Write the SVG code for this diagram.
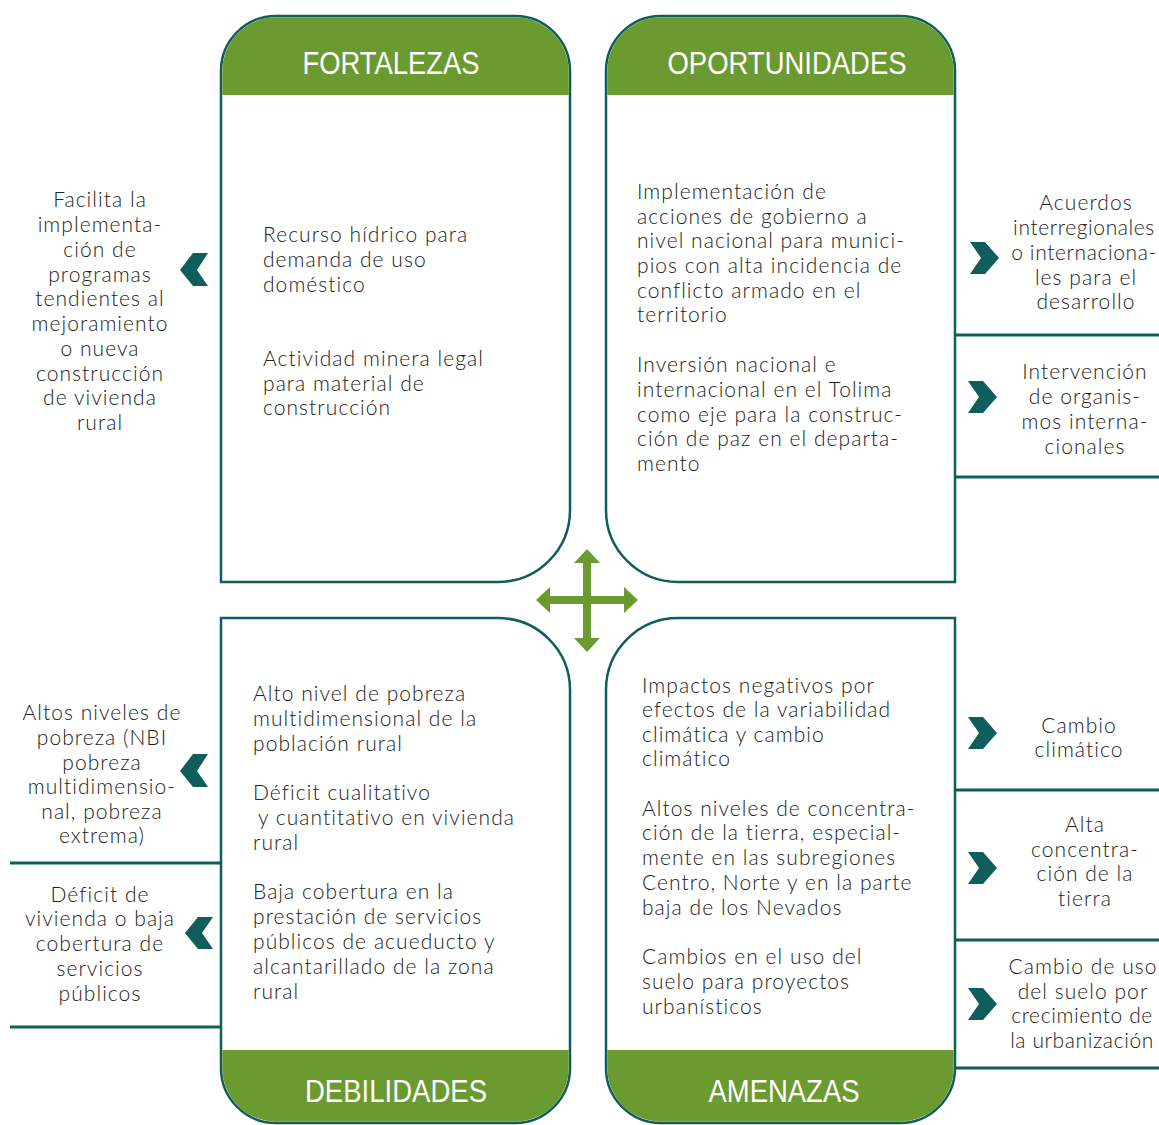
<svg xmlns="http://www.w3.org/2000/svg" width="1159" height="1125" viewBox="0 0 1159 1125">
<defs>
<style>
.box{fill:#ffffff;stroke:#0f5e5b;stroke-width:2.5}
.head{fill:#6b9a30}
.line{stroke:#0f5e5b;stroke-width:3;fill:none}
.chev{fill:#0f5e5b}
.ht{font-family:"Liberation Sans",Arial,sans-serif;font-size:32px;fill:#ffffff;text-anchor:middle}
.t{font-family:Lato,"Open Sans",sans-serif;font-weight:300;font-size:21px;letter-spacing:1.05px;fill:#222222}
.c{text-anchor:middle}
.tight{letter-spacing:0.6px}
.arrow{fill:#6b9a30}
</style>
</defs>
<rect width="1159" height="1125" fill="#ffffff"/>

<g id="connectors">
<line class="line" x1="955" y1="335" x2="1159" y2="335"/>
<line class="line" x1="955" y1="477" x2="1159" y2="477"/>
<line class="line" x1="10" y1="863" x2="221" y2="863"/>
<line class="line" x1="10" y1="1027" x2="221" y2="1027"/>
<line class="line" x1="955" y1="790" x2="1159" y2="790"/>
<line class="line" x1="955" y1="940" x2="1159" y2="940"/>
<line class="line" x1="955" y1="1068" x2="1159" y2="1068"/>
<polygon class="chev" points="193,253 208,253 197,270 208,286 193,286 180,270"/>
<polygon class="chev" points="193,754 208,754 197,771 208,787 193,787 180,771"/>
<polygon class="chev" points="198,917 213,917 202,933 213,949 198,949 185,933"/>
<polygon class="chev" points="970,242 985,242 999,258 985,274 970,274 981,258"/>
<polygon class="chev" points="968,381 983,381 997,397 983,413 968,413 979,397"/>
<polygon class="chev" points="968,717 983,717 997,733 983,749 968,749 979,733"/>
<polygon class="chev" points="968,852 983,852 997,868 983,884 968,884 979,868"/>
<polygon class="chev" points="968,988 983,988 997,1004 983,1020 968,1020 979,1004"/>
</g>

<g id="fortalezas">
<path class="box" d="M221,582 L221,71 A55,55 0 0 1 276,16 L515,16 A55,55 0 0 1 570,71 L570,510 A72,72 0 0 1 498,582 Z"/>
<path class="head" d="M222.3,95 L222.3,71 A53.7,53.7 0 0 1 276,17.3 L515,17.3 A53.7,53.7 0 0 1 568.7,71 L568.7,95 Z"/>
<text class="ht" x="391" y="74" textLength="177" lengthAdjust="spacingAndGlyphs">FORTALEZAS</text>
<text class="t" x="263" y="242">Recurso hídrico para</text>
<text class="t" x="263" y="267">demanda de uso</text>
<text class="t" x="263" y="292">doméstico</text>
<text class="t" x="263" y="366">Actividad minera legal</text>
<text class="t" x="263" y="391">para material de</text>
<text class="t" x="263" y="415">construcción</text>
</g>

<g id="oportunidades">
<path class="box" d="M955,582 L955,71 A55,55 0 0 0 900,16 L661,16 A55,55 0 0 0 606,71 L606,510 A72,72 0 0 0 678,582 Z"/>
<path class="head" d="M953.7,95 L953.7,71 A53.7,53.7 0 0 0 900,17.3 L661,17.3 A53.7,53.7 0 0 0 607.3,71 L607.3,95 Z"/>
<text class="ht" x="787" y="74" textLength="239" lengthAdjust="spacingAndGlyphs">OPORTUNIDADES</text>
<text class="t" x="637" y="199">Implementación de</text>
<text class="t" x="637" y="224">acciones de gobierno a</text>
<text class="t" x="637" y="248">nivel nacional para munici-</text>
<text class="t" x="637" y="273">pios con alta incidencia de</text>
<text class="t" x="637" y="298">conflicto armado en el</text>
<text class="t" x="637" y="322">territorio</text>
<text class="t" x="637" y="372">Inversión nacional e</text>
<text class="t" x="637" y="397">internacional en el Tolima</text>
<text class="t" x="637" y="422">como eje para la construc-</text>
<text class="t" x="637" y="446">ción de paz en el departa-</text>
<text class="t" x="637" y="471">mento</text>
</g>

<g id="debilidades">
<path class="box" d="M221,618 L498,618 A72,72 0 0 1 570,690 L570,1068 A55,55 0 0 1 515,1123 L276,1123 A55,55 0 0 1 221,1068 Z"/>
<path class="head" d="M222.3,1050 L568.7,1050 L568.7,1068 A53.7,53.7 0 0 1 515,1121.7 L276,1121.7 A53.7,53.7 0 0 1 222.3,1068 Z"/>
<text class="ht" x="396" y="1102" textLength="182" lengthAdjust="spacingAndGlyphs">DEBILIDADES</text>
<text class="t" x="253" y="701">Alto nivel de pobreza</text>
<text class="t" x="253" y="726">multidimensional de la</text>
<text class="t" x="253" y="751">población rural</text>
<text class="t" x="253" y="800">Déficit cualitativo</text>
<text class="t" x="258" y="825">y cuantitativo en vivienda</text>
<text class="t" x="253" y="850">rural</text>
<text class="t" x="253" y="899">Baja cobertura en la</text>
<text class="t" x="253" y="924">prestación de servicios</text>
<text class="t" x="253" y="949">públicos de acueducto y</text>
<text class="t" x="253" y="974">alcantarillado de la zona</text>
<text class="t" x="253" y="999">rural</text>
</g>

<g id="amenazas">
<path class="box" d="M955,618 L678,618 A72,72 0 0 0 606,690 L606,1068 A55,55 0 0 0 661,1123 L900,1123 A55,55 0 0 0 955,1068 Z"/>
<path class="head" d="M953.7,1050 L607.3,1050 L607.3,1068 A53.7,53.7 0 0 0 661,1121.7 L900,1121.7 A53.7,53.7 0 0 0 953.7,1068 Z"/>
<text class="ht" x="784" y="1102" textLength="151" lengthAdjust="spacingAndGlyphs">AMENAZAS</text>
<text class="t" x="642" y="693">Impactos negativos por</text>
<text class="t" x="642" y="717">efectos de la variabilidad</text>
<text class="t" x="642" y="742">climática y cambio</text>
<text class="t" x="642" y="766">climático</text>
<text class="t" x="642" y="816">Altos niveles de concentra-</text>
<text class="t" x="642" y="840">ción de la tierra, especial-</text>
<text class="t" x="642" y="865">mente en las subregiones</text>
<text class="t" x="642" y="890">Centro, Norte y en la parte</text>
<text class="t" x="642" y="915">baja de los Nevados</text>
<text class="t" x="642" y="964">Cambios en el uso del</text>
<text class="t" x="642" y="989">suelo para proyectos</text>
<text class="t" x="642" y="1014">urbanísticos</text>
</g>

<g id="center-arrow">
<path class="arrow" d="M587,549 L600,563 L591,563 L591,596 L624,596 L624,587 L638,600 L624,613 L624,604 L591,604 L591,638 L600,638 L587,652 L574,638 L583,638 L583,604 L550,604 L550,613 L536,600 L550,587 L550,596 L583,596 L583,563 L574,563 Z"/>
</g>

<g id="side-fortalezas">
<text class="t c" x="100" y="207">Facilita la</text>
<text class="t c" x="100" y="232">implementa-</text>
<text class="t c" x="100" y="257">ción de</text>
<text class="t c" x="100" y="282">programas</text>
<text class="t c" x="100" y="306">tendientes al</text>
<text class="t c" x="100" y="331">mejoramiento</text>
<text class="t c" x="100" y="356">o nueva</text>
<text class="t c" x="100" y="381">construcción</text>
<text class="t c" x="100" y="405">de vivienda</text>
<text class="t c" x="100" y="430">rural</text>
</g>

<g id="side-oportunidades-1">
<text class="t c" x="1086" y="210">Acuerdos</text>
<text class="t c tight" x="1084" y="235">interregionales</text>
<text class="t c tight" x="1084" y="260">o internaciona-</text>
<text class="t c" x="1086" y="285">les para el</text>
<text class="t c" x="1086" y="309">desarrollo</text>
</g>
<g id="side-oportunidades-2">
<text class="t c" x="1085" y="379">Intervención</text>
<text class="t c" x="1085" y="404">de organis-</text>
<text class="t c" x="1085" y="429">mos interna-</text>
<text class="t c" x="1085" y="454">cionales</text>
</g>

<g id="side-debilidades-1">
<text class="t c" x="102" y="720">Altos niveles de</text>
<text class="t c" x="102" y="745">pobreza (NBI</text>
<text class="t c" x="102" y="770">pobreza</text>
<text class="t c" x="102" y="794">multidimensio-</text>
<text class="t c" x="102" y="819">nal, pobreza</text>
<text class="t c" x="102" y="843">extrema)</text>
</g>
<g id="side-debilidades-2">
<text class="t c" x="100" y="902">Déficit de</text>
<text class="t c" x="100" y="926">vivienda o baja</text>
<text class="t c" x="100" y="951">cobertura de</text>
<text class="t c" x="100" y="976">servicios</text>
<text class="t c" x="100" y="1001">públicos</text>
</g>

<g id="side-amenazas-1">
<text class="t c" x="1079" y="733">Cambio</text>
<text class="t c" x="1079" y="757">climático</text>
</g>
<g id="side-amenazas-2">
<text class="t c" x="1085" y="832">Alta</text>
<text class="t c" x="1085" y="857">concentra-</text>
<text class="t c" x="1085" y="881">ción de la</text>
<text class="t c" x="1085" y="906">tierra</text>
</g>
<g id="side-amenazas-3">
<text class="t c" x="1083" y="974">Cambio de uso</text>
<text class="t c" x="1083" y="999">del suelo por</text>
<text class="t c tight" x="1082" y="1023">crecimiento de</text>
<text class="t c tight" x="1082" y="1048">la urbanización</text>
</g>
</svg>
